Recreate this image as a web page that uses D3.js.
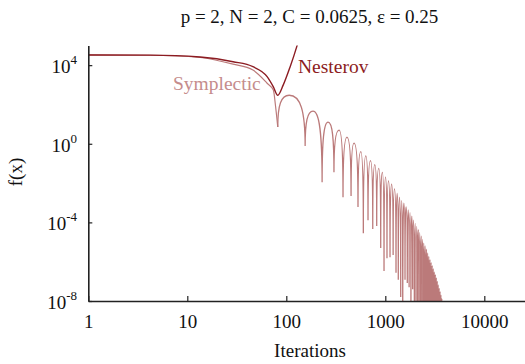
<!DOCTYPE html>
<html>
<head>
<meta charset="utf-8">
<title>f(x) vs iterations</title>
<style>
  body { margin: 0; background: #fff; }
  text { font-family: "Liberation Serif", "Times New Roman", serif; }
  .axis path, .axis line { fill: none; stroke: #222; }
</style>
</head>
<body>
<script src="https://cdn.jsdelivr.net/npm/d3@7/dist/d3.min.js"></script>
<script>
var w = 525, h = 364;

// ticks
var xTicks = [1, 10, 100, 1000, 10000];
var yTicks = [1e4, 1e0, 1e-4, 1e-8];
var yTickExp = ["4", "0", "-4", "-8"];

// Nesterov
var nesIter = [1, 4.2, 13.5, 29, 46, 64, 74, 82, 93, 109, 128, 139];
var nesVal  = [3.3e4, 3.25e4, 2.6e4, 1.5e4, 8.3e3, 2.6e3, 790, 295, 960, 7.9e3, 9.3e4, 4e5];

// Symplectic: smooth start down to the first dip
var symHeadIter = [1, 4.2, 13.5, 29, 46, 64, 74, 78, 82];
var symHeadVal  = [3.3e4, 3.2e4, 2.45e4, 1.12e4, 5.6e3, 1.2e3, 540, 76, 7.1];

// Symplectic: dips (minima) and hump tops between them
var symMinIter = [82, 155, 230, 303, 374, 451, 530, 600, 669, 747, 819, 899, 971, 1040, 1116, 1200,
  1283, 1353, 1431, 1500, 1582, 1668, 1740, 1815, 1890, 1965, 2040, 2115, 2190, 2265, 2340, 2415,
  2490, 2565, 2640, 2715, 2790, 2865, 2940, 3015, 3090, 3165, 3240, 3315, 3390, 3465, 3540, 3615,
  3690, 3765];
var symMinVal = [7.1, 0.76, 0.011, 0.036, 1.9e-3, 2.2e-3, 6.0e-4, 2.8e-5, 1.3e-4, 4.6e-5, 6.5e-5,
  5.0e-6, 3.4e-7, 1.5e-6, 1.7e-6, 2.2e-6, 2.7e-7, 1.2e-7, 1.6e-8, 1e-10, 1.2e-7, 8.3e-8, 5e-8, 1e-10,
  4e-8, 1e-10, 1e-10, 1e-10, 1e-10, 1e-10, 1e-10, 1e-10, 1e-10, 1e-10, 1e-10, 1e-10, 1e-10, 1e-10,
  1e-10, 1e-10, 1e-10, 1e-10, 1e-10, 1e-10, 1e-10, 1e-10, 1e-10, 1e-10, 1e-10, 1e-10];
var symPeakIter = [107, 186, 264, 341, 410, 483, 565, 635, 708, 783, 858, 935, 1005, 1078, 1158,
  1240, 1318, 1392, 1465, 1541, 1625, 1704, 1778, 1852, 1928, 2003, 2078, 2153, 2228, 2303, 2378,
  2453, 2528, 2603, 2678, 2753, 2828, 2903, 2978, 3053, 3128, 3203, 3278, 3353, 3428, 3503, 3578,
  3653, 3728];
var symPeakVal = [295, 46, 12.6, 5.0, 2.2, 1.07, 0.40, 0.24, 0.14, 0.087, 0.056, 0.035, 0.020,
  0.013, 8.9e-3, 5.1e-3, 3.0e-3, 1.9e-3, 1.26e-3, 9.5e-4, 6.2e-4, 4.3e-4, 3.1e-4, 2.1e-4, 1.3e-4,
  8.9e-5, 6.2e-5, 4.3e-5, 3.0e-5, 2.0e-5, 1.35e-5, 8.9e-6, 6.3e-6, 4.3e-6, 2.8e-6, 1.9e-6, 1.3e-6,
  9.1e-7, 6.3e-7, 4.4e-7, 3.0e-7, 2.2e-7, 1.5e-7, 1.0e-7, 6.6e-8, 4.4e-8, 3.0e-8, 2.0e-8, 1.3e-8];

var nesColor = "#8c1c22";
var symColor = "#bb7a7a";

var x = d3.scaleLog().domain([1, Math.pow(10, 4.5)]).range([88.3, 88.3 + 4.5 * 99]);
var y = d3.scaleLog().domain([1e-8, 1e5]).range([301, 45.5]);

var svg = d3.select("body").append("svg").attr("width", w).attr("height", h);

svg.append("defs").append("clipPath").attr("id", "plot")
  .append("rect").attr("x", 88.3).attr("y", 45.5).attr("width", w - 88.3).attr("height", 301 - 45.5);

var plot = svg.append("g").attr("clip-path", "url(#plot)");

// symplectic head
var line = d3.line()
  .x(function(d) { return x(d[0]); })
  .y(function(d) { return y(d[1]); })
  .curve(d3.curveMonotoneX);

plot.append("path")
  .attr("d", line(d3.zip(symHeadIter, symHeadVal)))
  .attr("fill", "none").attr("stroke", symColor).attr("stroke-width", 1.2);

// symplectic humps: vertical at each dip, flat at each top
var p = d3.path();
p.moveTo(x(symMinIter[0]), y(symMinVal[0]));
for (var i = 0; i < symPeakIter.length; i++) {
  var x0 = x(symMinIter[i]), y0 = y(symMinVal[i]);
  var xp = x(symPeakIter[i]), yp = y(symPeakVal[i]);
  var x1 = x(symMinIter[i + 1]), y1 = y(symMinVal[i + 1]);
  p.bezierCurveTo(x0, yp + 0.3 * (y0 - yp), x0 + 0.3 * (xp - x0), yp, xp, yp);
  p.bezierCurveTo(x1 - 0.3 * (x1 - xp), yp, x1, yp + 0.3 * (y1 - yp), x1, y1);
}
plot.append("path")
  .attr("d", p.toString())
  .attr("fill", "none").attr("stroke", symColor).attr("stroke-width", 1.3);

// nesterov
plot.append("path")
  .attr("d", line(d3.zip(nesIter, nesVal)))
  .attr("fill", "none").attr("stroke", nesColor).attr("stroke-width", 1.4);

// axes
var xAxis = d3.axisBottom(x).tickValues(xTicks).tickFormat(d3.format("d"))
  .tickSizeInner(-5).tickSizeOuter(0);
var xg = svg.append("g").attr("class", "axis").attr("transform", "translate(0,301)").call(xAxis);
xg.select(".domain").attr("stroke-width", 1.6);
xg.selectAll(".tick line").attr("stroke-width", 1.2);
xg.selectAll("text").attr("y", 27).attr("dy", 0).attr("fill", "#111")
  .attr("font-size", "19px").attr("font-family", "Liberation Serif, serif");

var yAxis = d3.axisLeft(y).tickValues(yTicks).tickFormat("").tickSizeInner(-4).tickSizeOuter(0);
var yg = svg.append("g").attr("class", "axis").attr("transform", "translate(88.3,0)").call(yAxis);
yg.select(".domain").attr("stroke-width", 1.6);
yg.selectAll(".tick line").attr("stroke-width", 1.2);

var yl = svg.append("g").selectAll("text").data(yTicks).enter().append("text")
  .attr("x", 77).attr("y", function(d) { return y(d) + 8; })
  .attr("text-anchor", "end").attr("fill", "#111").attr("font-size", "19px");
yl.append("tspan").text("10");
yl.append("tspan").attr("dy", -9).attr("font-size", "13px").text(function(d, i) { return yTickExp[i]; });

// labels
svg.append("text").attr("x", 309.5).attr("y", 23).attr("text-anchor", "middle")
  .attr("font-size", "19px").attr("fill", "#111")
  .text("p = 2, N = 2, C = 0.0625, \u03b5 = 0.25");

svg.append("text").attr("x", 310).attr("y", 357).attr("text-anchor", "middle")
  .attr("font-size", "19px").attr("fill", "#111").text("Iterations");

svg.append("text").attr("transform", "translate(22,172) rotate(-90)").attr("text-anchor", "middle")
  .attr("font-size", "19px").attr("fill", "#111").text("f(x)");

svg.append("text").attr("x", 298).attr("y", 73).attr("font-size", "19.5px")
  .attr("fill", nesColor).text("Nesterov");
svg.append("text").attr("x", 173).attr("y", 90).attr("font-size", "19.5px")
  .attr("fill", "#c58c8c").text("Symplectic");
</script>
</body>
</html>
